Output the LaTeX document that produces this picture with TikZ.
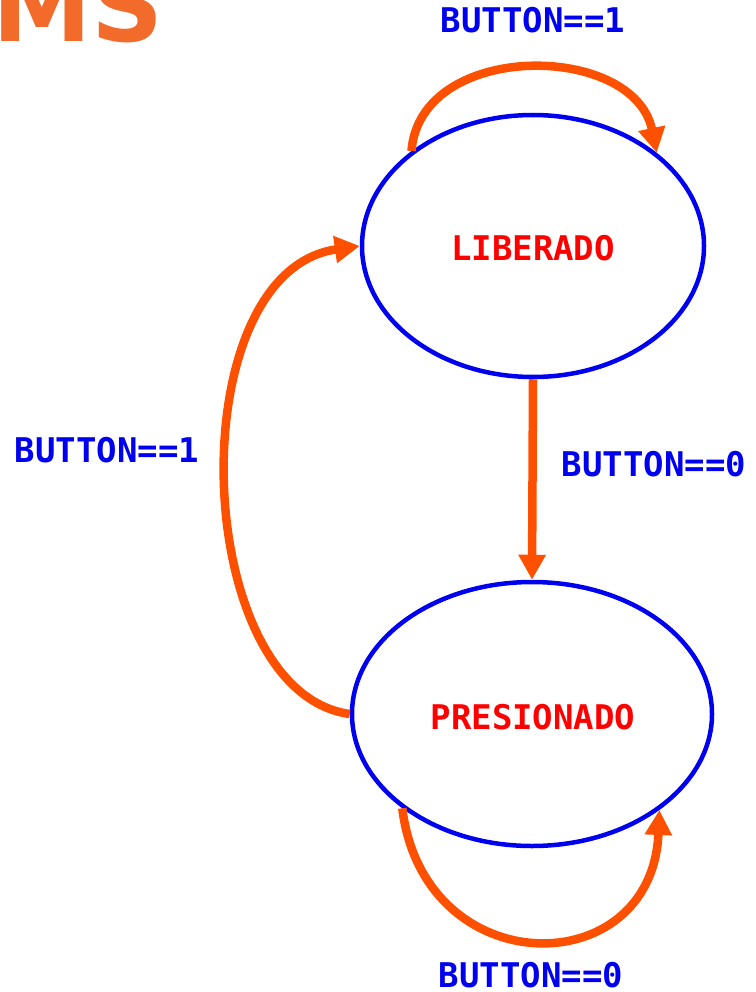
\documentclass[tikz,border=0pt]{standalone}
\usepackage{fontspec}
\setmonofont{DejaVu Sans Mono}
\newfontfamily\titlefont{DejaVu Sans}
\usetikzlibrary{shapes.geometric,arrows.meta}
\definecolor{stblue}{RGB}{0,0,240}
\definecolor{stred}{RGB}{255,0,0}
\definecolor{arrorange}{RGB}{255,80,0}
\definecolor{titleorange}{RGB}{242,107,42}
\begin{document}
\begin{tikzpicture}[x=1pt,y=-1pt,
  state/.style={ellipse,draw=stblue,line width=4.5pt,inner sep=0pt},
  statetext/.style={text=stred,font=\ttfamily\bfseries\fontsize{34}{34}\selectfont},
  lbl/.style={text=stblue,font=\ttfamily\bfseries\fontsize{34}{34}\selectfont,inner sep=0pt},
  trans/.style={draw=arrorange,line width=8.5pt,-{Triangle[length=25pt,width=26pt]}}
]
\useasboundingbox (0,0) rectangle (755,992);
\clip (0,0) rectangle (755,992);
\node[anchor=base east,inner sep=0pt,text=titleorange,font=\titlefont\bfseries\fontsize{100}{100}\selectfont] (title) at (164,42) {MS};

\node[state,minimum width=342pt,minimum height=262pt] (L) at (533,246) {};
\node[statetext] (Ltext) at (533,248) {LIBERADO};
\node[state,minimum width=360pt,minimum height=264pt] (P) at (532,714) {};
\node[statetext] (Ptext) at (533,717) {PRESIONADO};

\node[lbl] (l1) at (533,20) {BUTTON==1};
\node[lbl] (l2) at (107,450) {BUTTON==1};
\node[lbl] (l3) at (654,464) {BUTTON==0};
\node[lbl] (l4) at (531,975) {BUTTON==0};

\draw[trans] (L.142.6) .. controls (420,40) and (634,42) .. (L.37.6);
\draw[trans] (L.south) -- (P.north);
\draw[trans] (P.west) .. controls (190,692) and (178,272) .. (L.west);
\draw[trans] (P.216.4) .. controls (424,984) and (652,984) .. (P.323.1);
\end{tikzpicture}
\end{document}
